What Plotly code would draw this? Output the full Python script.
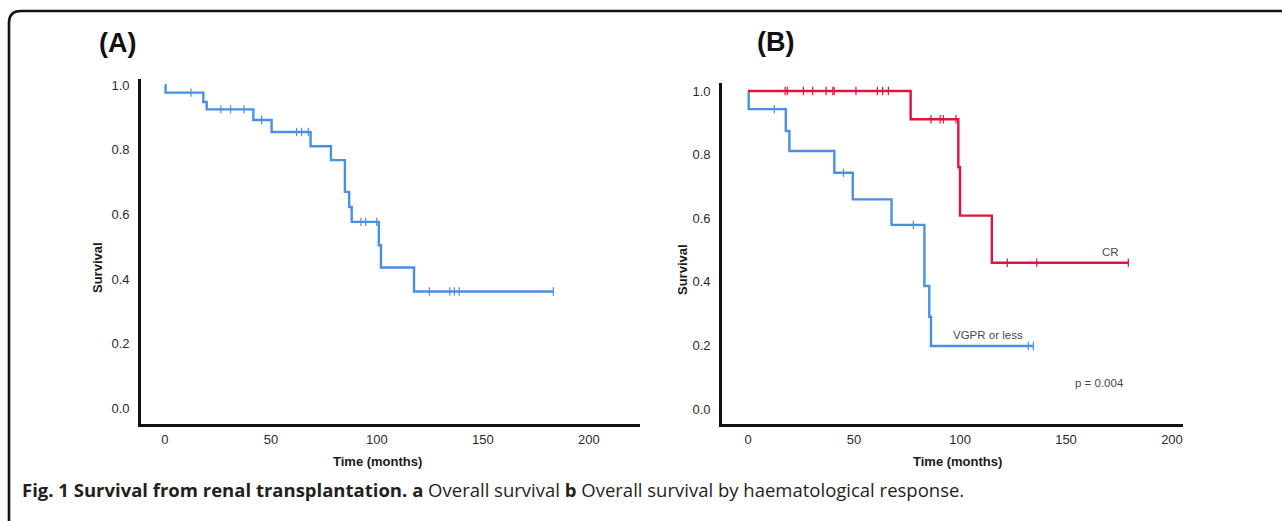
import plotly.graph_objects as go

# ---------------- data ----------------
# Panel A: overall survival (Kaplan-Meier step points)
times_A = [0, 0.3, 18.1, 19.7, 41.7, 50.3, 68.7, 78.3, 84.9, 86.9, 88.1, 100.9, 101.9, 117.5, 183.2]
surv_A = [1.0, 0.977, 0.948, 0.925, 0.892, 0.855, 0.811, 0.768, 0.670, 0.623, 0.577, 0.505, 0.436, 0.362, 0.362]
cens_t_A = [12.3, 26.4, 31.0, 37.3, 45.6, 62.1, 64.5, 67.6, 92.5, 94.7, 99.9, 124.7, 134.4, 136.5, 138.8, 183.2]
cens_s_A = [0.977, 0.925, 0.925, 0.925, 0.892, 0.855, 0.855, 0.855, 0.577, 0.577, 0.577, 0.362, 0.362, 0.362, 0.362, 0.362]

# Panel B: CR group
times_CR = [0, 76.7, 99.2, 100.0, 115.0, 179.4]
surv_CR = [1.0, 0.911, 0.760, 0.608, 0.460, 0.460]
cens_t_CR = [17.5, 18.5, 26.1, 30.5, 36.8, 40.0, 40.6, 50.9, 61.0, 63.5, 66.2,
             86.3, 90.6, 92.1, 98.1, 122.3, 136.2, 179.4]
cens_s_CR = [1.0, 1.0, 1.0, 1.0, 1.0, 1.0, 1.0, 1.0, 1.0, 1.0, 1.0,
             0.911, 0.911, 0.911, 0.911, 0.460, 0.460, 0.460]

# Panel B: VGPR or less group
times_V = [0, 0.3, 17.8, 19.5, 40.7, 49.4, 67.7, 83.2, 85.5, 86.3, 134.6]
surv_V = [1.0, 0.943, 0.874, 0.811, 0.743, 0.659, 0.579, 0.387, 0.290, 0.198, 0.198]
cens_t_V = [12.4, 45.0, 78.0, 132.2, 134.6]
cens_s_V = [0.943, 0.743, 0.579, 0.198, 0.198]

x_ticks = [0, 50, 100, 150, 200]
y_ticks = [0.0, 0.2, 0.4, 0.6, 0.8, 1.0]

BLUE = "#4a8fe3"
RED = "#e0143f"

W, H = 1282, 521


def px(x):
    return x / W


def py(y):
    return 1 - y / H


fig = go.Figure()


def add_curve(t, s, ct, cs, color, xa, ya):
    fig.add_trace(go.Scatter(x=t, y=s, mode="lines", line=dict(color=color, width=2.4, shape="hv"),
                             xaxis=xa, yaxis=ya, showlegend=False, hoverinfo="skip"))
    fig.add_trace(go.Scatter(x=ct, y=cs, mode="markers",
                             marker=dict(symbol="line-ns", size=6, line=dict(color=color, width=1.2)),
                             xaxis=xa, yaxis=ya, showlegend=False, hoverinfo="skip"))


add_curve(times_A, surv_A, cens_t_A, cens_s_A, BLUE, "x", "y")
add_curve(times_V, surv_V, cens_t_V, cens_s_V, BLUE, "x2", "y2")
add_curve(times_CR, surv_CR, cens_t_CR, cens_s_CR, RED, "x2", "y2")

tickfont = dict(family="Liberation Sans, Arial, sans-serif", size=13, color="#2a2a2a")
common_x = dict(tickvals=x_ticks, showgrid=False, zeroline=False,
                showline=True, linecolor="#111", linewidth=2.6, ticks="", tickfont=tickfont,
                ticklabelstandoff=2, fixedrange=True)
common_y = dict(tickvals=y_ticks, tickformat=".1f", showgrid=False, zeroline=False,
                showline=True, linecolor="#111", linewidth=2.6, ticks="", tickfont=tickfont,
                ticklabelstandoff=6, fixedrange=True)

fig.update_layout(
    width=W, height=H, autosize=False,
    margin=dict(l=0, r=0, t=0, b=0),
    paper_bgcolor="white", plot_bgcolor="white",
    xaxis=dict(domain=[px(141), px(640)], anchor="y", range=[-11.3, 224.1], **common_x),
    yaxis=dict(domain=[py(424), py(79)], anchor="x", range=[-0.048, 1.019], **common_y),
    xaxis2=dict(domain=[px(722), px(1183)], anchor="y2", range=[-12.3, 205.2], **common_x),
    yaxis2=dict(domain=[py(424), py(83)], anchor="x2", range=[-0.047, 1.025], **common_y),
)

ann = []
bold_font = dict(family="Liberation Sans, Arial, sans-serif", size=13, color="#1a1a1a")
title_font = dict(family="Liberation Sans, Arial, sans-serif", size=27, color="#111")


def note(x, y, text, font, xref="paper", yref="paper", **kw):
    d = dict(x=x, y=y, xref=xref, yref=yref, text=text, showarrow=False, font=font,
             xanchor="center", yanchor="middle")
    d.update(kw)
    ann.append(d)


# panel titles
note(px(117), py(43), "<b>(A)</b>", title_font)
note(px(775), py(42), "<b>(B)</b>", title_font)
# axis titles
note(px(377), py(461), "<b>Time (months)</b>", bold_font)
note(px(957), py(461), "<b>Time (months)</b>", bold_font)
note(px(97), py(268), "<b>Survival</b>", bold_font, textangle=-90)
note(px(682), py(270), "<b>Survival</b>", bold_font, textangle=-90)
# group labels and p-value
lab_font = dict(family="Liberation Sans, Arial, sans-serif", size=11.5, color="#4a4a4a")
note(170.8, 0.494, "CR", lab_font, xref="x2", yref="y2")
note(113.2, 0.232, "VGPR or less", lab_font, xref="x2", yref="y2")
note(px(1099), py(383), "p = 0.004", lab_font)
# caption
note(px(20), py(489), "<b>Fig. 1 Survival from renal transplantation.</b> <b>a</b> Overall survival "
     "<b>b</b> Overall survival by haematological response.",
     dict(family="Open Sans, sans-serif", size=18.5, color="#231f20"), xanchor="left")
fig.update_layout(annotations=ann)

# rounded frame (top-left corner visible)
path = (f"M {px(9)} {py(530)} L {px(9)} {py(23)} Q {px(9)} {py(11)} {px(21)} {py(11)} "
        f"L {px(1300)} {py(11)}")
fig.add_shape(type="path", path=path, xref="paper", yref="paper",
              line=dict(color="#111", width=2.6))

fig.write_html("out.html", config={"displayModeBar": False},
               post_script="document.body.style.margin='0';document.body.style.overflow='hidden';")
